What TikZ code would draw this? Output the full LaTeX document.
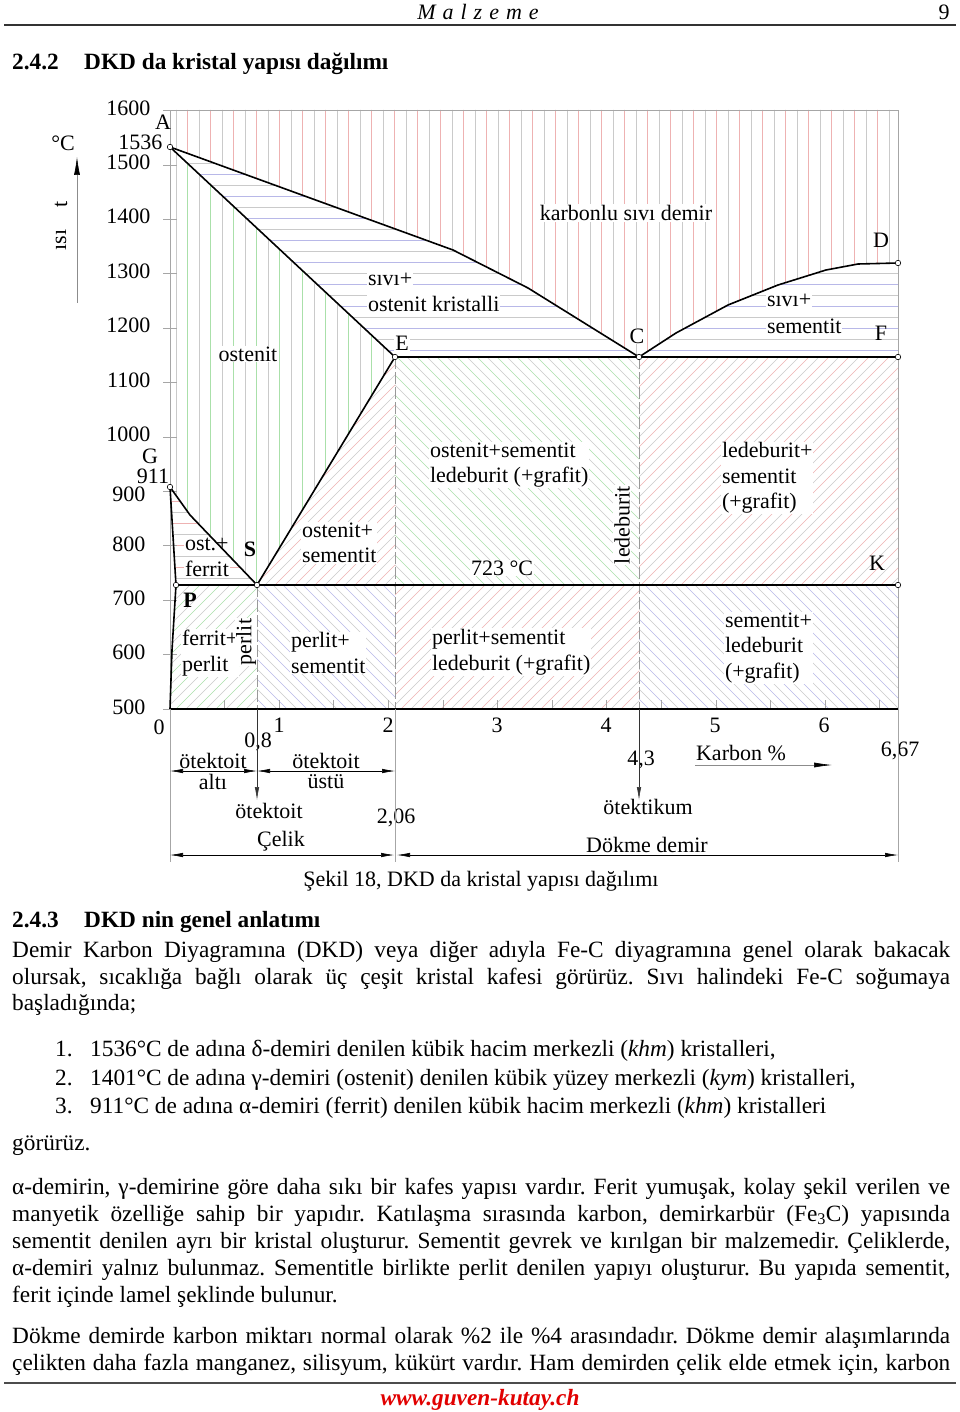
\documentclass[tikz,border=0pt]{standalone}
\usepackage{fontspec}
\setmainfont{Liberation Serif}
\usetikzlibrary{arrows.meta}
\definecolor{hr}{RGB}{238,178,178}
\definecolor{hg}{RGB}{202,202,202}
\definecolor{hgr}{RGB}{170,224,170}
\definecolor{hb}{RGB}{184,184,232}
\definecolor{footred}{RGB}{225,0,0}
\newcommand\dfont{\fontsize{22}{25.5}\selectfont}
\newcommand\bfont{\fontsize{23.3}{27}\selectfont\frenchspacing}
\newcommand\jl[1]{\makebox[938pt][s]{#1}}
\newcommand\lsp{\kern7pt}
% hatch macros: #1 start, #2 count, #3 odd colour, #4 even colour
\newcommand\hV[4]{\foreach \i in {0,...,#2}{\ifodd\i\relax\def\hc{#3}\else\def\hc{#4}\fi
  \draw[hatchl,color=\hc] ({#1+11.5*\i},100) -- ({#1+11.5*\i},720);}}
\newcommand\hH[4]{\foreach \i in {0,...,#2}{\ifodd\i\relax\def\hc{#3}\else\def\hc{#4}\fi
  \draw[hatchl,color=\hc] (160,{#1+11*\i}) -- (910,{#1+11*\i});}}
\newcommand\hU[4]{\foreach \i in {0,...,#2}{\ifodd\i\relax\def\hc{#3}\else\def\hc{#4}\fi
  \draw[hatchl,color=\hc] ({#1+10*\i},720) -- ++(620,-620);}}
\newcommand\hD[4]{\foreach \i in {0,...,#2}{\ifodd\i\relax\def\hc{#3}\else\def\hc{#4}\fi
  \draw[hatchl,color=\hc] ({#1+10*\i},100) -- ++(620,620);}}
\begin{document}
\begin{tikzpicture}[x=1pt,y=-1pt,
 hatchl/.style={line width=0.55pt},
 blk/.style={line width=1.6pt, line join=round},
 greyl/.style={draw=black!35, line width=0.7pt},
 dashl/.style={draw=black!40, line width=0.8pt, dash pattern=on 12pt off 3pt},
 ptmark/.style={circle, draw=black, fill=white, line width=0.6pt, inner sep=0pt, minimum size=5.5pt},
 lab/.style={font=\dfont, inner sep=0.8pt, fill=white, align=left},
 labn/.style={font=\dfont, inner sep=0.5pt},
 body/.style={font=\bfont, inner sep=0pt, anchor=base west},
 arrs/.style={-{Latex[length=13pt,width=4.5pt]}, line width=0.6pt},
 darrs/.style={{Latex[length=13pt,width=4.5pt]}-{Latex[length=13pt,width=4.5pt]}, line width=0.6pt},
]
\fill[white] (0,0) rectangle (960,1412);
\useasboundingbox (0,0) rectangle (960,1412);

% ---------- points ----------
\coordinate (A) at (170,147);
\coordinate (l1) at (453,250);
\coordinate (l2) at (528,288);
\coordinate (C) at (639,357);
\coordinate (r1) at (676,333);
\coordinate (r2) at (728,305);
\coordinate (r3) at (778,285);
\coordinate (r4) at (826,270);
\coordinate (r5) at (858,264);
\coordinate (D) at (898,263);
\coordinate (E) at (395,357);
\coordinate (F) at (898,357);
\coordinate (G) at (170,487);
\coordinate (g1) at (190,515);
\coordinate (S) at (257,585);
\coordinate (P) at (176,585);
\coordinate (p1) at (172,650);
\coordinate (K) at (898,585);
\coordinate (O) at (170,709);
\coordinate (X) at (898,709);
\coordinate (TL) at (170,110);
\coordinate (TR) at (898,110);
\coordinate (Eb) at (395,585);
\coordinate (Cb) at (639,585);
\coordinate (Sb) at (257,709);
\coordinate (Ebb) at (395,709);
\coordinate (Cbb) at (639,709);

% ---------- hatching ----------
\begin{scope}
\clip (TL) -- (TR) -- (D) -- (r5) -- (r4) -- (r3) -- (r2) -- (r1) -- (C) -- (l2) -- (l1) -- (A) -- cycle;
\hV{176}{64}{hr}{hg}
\end{scope}
\begin{scope}
\clip (A) -- (l1) -- (l2) -- (C) -- (r1) -- (r2) -- (r3) -- (r4) -- (r5) -- (D) -- (F) -- (E) -- cycle;
\hH{163}{18}{hb}{hg}
\end{scope}
\begin{scope}
\clip (A) -- (E) -- (S) -- (g1) -- (G) -- cycle;
\hV{176}{20}{hgr}{hg}
\end{scope}
\begin{scope}
\clip (E) -- (S) -- (Eb) -- cycle;
\hU{-110}{38}{hr}{hg}
\end{scope}
\begin{scope}
\clip (E) -- (C) -- (Cb) -- (Eb) -- cycle;
\hD{-90}{48}{hgr}{hg}
\end{scope}
\begin{scope}
\clip (C) -- (F) -- (K) -- (Cb) -- cycle;
\hU{276}{49}{hr}{hg}
\end{scope}
\begin{scope}
\clip (G) -- (g1) -- (S) -- (P) -- cycle;
\hH{490}{9}{hr}{hg}
\end{scope}
\begin{scope}
\clip (P) -- (S) -- (Sb) -- (O) -- (p1) -- cycle;
\hU{35}{22}{hgr}{hg}
\end{scope}
\begin{scope}
\clip (S) -- (Eb) -- (Ebb) -- (Sb) -- cycle;
\hD{-352}{27}{hb}{hg}
\end{scope}
\begin{scope}
\clip (Eb) -- (Cb) -- (Cbb) -- (Ebb) -- cycle;
\hU{260}{37}{hr}{hg}
\end{scope}
\begin{scope}
\clip (Cb) -- (K) -- (X) -- (Cbb) -- cycle;
\hD{30}{39}{hb}{hg}
\end{scope}

% ---------- frame, ticks ----------
\draw[greyl] (TL) rectangle (X);
\foreach \t in {0,...,11}{\draw[greyl] (163,{110.5+54.41*\t}) -- (177,{110.5+54.41*\t});}
\foreach \k in {1,...,13}{\draw[greyl] ({170+54.6*\k},700) -- ({170+54.6*\k},709);}

% ---------- diagram labels ----------
\node[lab] (lost) at (248,354) {ostenit};
\node[lab, anchor=west] (lsiv1) at (367,279) {sıvı+};
\node[lab, anchor=west] (lsiv2) at (367,304) {ostenit kristalli};
\node[lab] (lkar) at (626,213) {karbonlu sıvı demir};
\node[lab, anchor=west] (lsvs1) at (766,300) {sıvı+};
\node[lab, anchor=west] (lsvs2) at (766,326) {sementit};
\node[lab] (lC) at (637,336) {C};
\node[lab] (lE) at (402,343) {E};
\node[lab, anchor=west] (lof1) at (184,544) {ost.+};
\node[lab, anchor=west] (lof2) at (184,569) {ferrit};
\node[lab, anchor=west] (los) at (301,543) {ostenit+\\sementit};
\node[lab, anchor=west] (losl) at (429,465) {ostenit+sementit\\ledeburit (+grafit)};
\node[lab] (l723) at (502,568) {723 °C};
\node[lab, rotate=90] (lled) at (622,525) {ledeburit};
\node[lab, anchor=west] (llsg) at (721,478) {ledeburit+\\sementit\\(+grafit)};
\node[lab, anchor=west] (lfp) at (181,653) {ferrit+\\perlit};
\node[lab, rotate=90] (lper) at (246,642) {perlit};
\node[lab, anchor=west] (lps) at (290,653) {perlit+\\sementit};
\node[lab, anchor=west] (lpsl) at (431,652) {perlit+sementit\\ledeburit (+grafit)};
\node[lab, anchor=west] (lslg) at (724,648) {sementit+\\ledeburit\\(+grafit)};
\node[labn] (lA) at (163,122) {A};
\node[labn] (lD) at (881,240) {D};
\node[labn] (lF) at (881,333) {F};
\node[labn] (lG) at (150,456) {G};
\node[labn] (l911) at (153,476) {911};
\node[labn] (lS) at (250,549) {\bfseries S};
\node[labn] (lK) at (877,563) {K};
\node[labn] (lP) at (190,600) {\bfseries P};

% ---------- dashed and phase lines ----------
\draw[dashl] (S) -- (Sb);
\draw[dashl] (E) -- (Ebb);
\draw[dashl] (C) -- (Cbb);
\draw[blk] (A) -- (l1) -- (l2) -- (C) -- (r1) -- (r2) -- (r3) -- (r4) -- (r5) -- (D);
\draw[blk] (A) -- (E) -- (S);
\draw[blk] (E) -- (F);
\draw[blk] (G) -- (g1) -- (S);
\draw[blk] (G) -- (P) -- (p1) -- (O);
\draw[blk] (P) -- (K);
\draw[blk] (O) -- (X);
\foreach \p in {A,E,C,D,F,G,P,S,K}{\node[ptmark] at (\p) {};}

% ---------- temperature axis ----------
\node[labn, anchor=east] (t1600) at (151,108) {1600};
\node[labn, anchor=east] (t1536) at (163,142) {1536};
\node[labn, anchor=east] (t1500) at (151,162) {1500};
\node[labn, anchor=east] (t1400) at (151,216) {1400};
\node[labn, anchor=east] (t1300) at (151,271) {1300};
\node[labn, anchor=east] (t1200) at (151,325) {1200};
\node[labn, anchor=east] (t1100) at (151,380) {1100};
\node[labn, anchor=east] (t1000) at (151,434) {1000};
\node[labn, anchor=east] (t900) at (146,494) {900};
\node[labn, anchor=east] (t800) at (146,544) {800};
\node[labn, anchor=east] (t700) at (146,598) {700};
\node[labn, anchor=east] (t600) at (146,652) {600};
\node[labn, anchor=east] (t500) at (146,707) {500};
\node[labn] (degc) at (63,143) {°C};
\coordinate (ta) at (77,303);
\coordinate (tb) at (77,157);
\draw[draw=black!45, line width=0.6pt, -{Latex[length=18pt,width=6pt,color=black]}] (ta) -- (tb);
\node[labn, rotate=90] (isi) at (61,240) {ısı};
\node[labn, rotate=90] (tt) at (61,204) {t};

% ---------- carbon axis ----------
\node[labn] (c0) at (159,727) {0};
\node[labn] (c1) at (279,725) {1};
\node[labn] (c2) at (388,725) {2};
\node[labn] (c3) at (497,725) {3};
\node[labn] (c4) at (606,725) {4};
\node[labn] (c5) at (715,725) {5};
\node[labn] (c6) at (824,725) {6};
\node[labn] (c08) at (258,742) {0,8};
\node[labn] (ot1) at (213,761) {ötektoit};
\node[labn] (alt) at (213,782) {altı};
\node[labn] (ot2) at (326,761) {ötektoit};
\node[labn] (ust) at (326,782) {üstü};
\node[labn] (ot3) at (269,811) {ötektoit};
\node[labn] (c206) at (396,818) {2,06};
\node[labn] (c43) at (641,760) {4,3};
\node[labn] (otk) at (648,807) {ötektikum};
\node[labn] (karb) at (741,753) {Karbon \%};
\node[labn] (c667) at (900,751) {6,67};
\node[labn] (celik) at (281,841) {Çelik};
\node[labn] (dokme) at (647,845) {Dökme demir};
\node[labn] (cap) at (481,881) {Şekil 18, DKD da kristal yapısı dağılımı};

\coordinate (a0) at (170,771);
\coordinate (a08) at (257,771);
\coordinate (a2) at (395,771);
\coordinate (b0) at (170,855);
\coordinate (b2l) at (394,855);
\coordinate (b2r) at (397,855);
\coordinate (b6) at (898,855);
\coordinate (va) at (257,800);
\coordinate (vc) at (639,800);
\coordinate (k1) at (695,765);
\coordinate (k2) at (832,765);
\draw[greyl] (O) -- (170,862);
\draw[greyl] (Ebb) -- (395,862);
\draw[greyl] (X) -- (898,862);
\draw[arrs, black!80] (Sb) -- (va);
\draw[arrs, black!80] (Cbb) -- (vc);
\draw[darrs] (a0) -- (a08);
\draw[darrs] (a08) -- (a2);
\draw[darrs] (b0) -- (b2l);
\draw[darrs] (b2r) -- (b6);
\draw[arrs, draw=black!45, -{Latex[length=18pt,width=5pt,color=black]}] (k1) -- (k2);

% ---------- page header ----------
\node[font=\fontsize{22}{26}\selectfont\itshape, inner sep=0pt, anchor=base] (hdr) at (478,20) {M\lsp a\lsp l\lsp z\lsp e\lsp m\lsp e};
\node[font=\fontsize{22}{26}\selectfont, inner sep=0pt, anchor=base] (pg) at (944,20) {9};
\coordinate (h1) at (4,25);
\coordinate (h2) at (956,25);
\draw[line width=1.3pt, black!80] (h1) -- (h2);

% ---------- headings ----------
\node[body, font=\bfont\bfseries] (h242) at (12,70) {2.4.2};
\node[body, font=\bfont\bfseries] (h242t) at (84,70) {DKD da kristal yapısı dağılımı};
\node[body, font=\bfont\bfseries] (h243) at (12,927) {2.4.3};
\node[body, font=\bfont\bfseries] (h243t) at (84,927) {DKD nin genel anlatımı};

% ---------- body text ----------
\node[body] (b1) at (12,957) {\jl{Demir Karbon Diyagramına (DKD) veya diğer adıyla Fe-C diyagramına genel olarak bakacak}};
\node[body] (b2) at (12,984) {\jl{olursak, sıcaklığa bağlı olarak üç çeşit kristal kafesi görürüz. Sıvı halindeki Fe-C soğumaya}};
\node[body] (b3) at (12,1010) {başladığında;};
\node[body] (n1) at (55,1056) {1.};
\node[body] (i1) at (90,1056) {1536°C de adına δ-demiri denilen kübik hacim merkezli (\textit{khm}) kristalleri,};
\node[body] (n2) at (55,1085) {2.};
\node[body] (i2) at (90,1085) {1401°C de adına γ-demiri (ostenit) denilen kübik yüzey merkezli (\textit{kym}) kristalleri,};
\node[body] (n3) at (55,1113) {3.};
\node[body] (i3) at (90,1113) {911°C de adına α-demiri (ferrit) denilen kübik hacim merkezli (\textit{khm}) kristalleri};
\node[body] (gor) at (12,1150) {görürüz.};
\node[body] (c1l) at (12,1194) {\jl{α-demirin, γ-demirine göre daha sıkı bir kafes yapısı vardır. Ferit yumuşak, kolay şekil verilen ve}};
\node[body] (c2l) at (12,1221) {\jl{manyetik özelliğe sahip bir yapıdır. Katılaşma sırasında karbon, demirkarbür (Fe\textsubscript{3}C) yapısında}};
\node[body] (c3l) at (12,1248) {\jl{sementit denilen ayrı bir kristal oluşturur. Sementit gevrek ve kırılgan bir malzemedir. Çeliklerde,}};
\node[body] (c4l) at (12,1275) {\jl{α-demiri yalnız bulunmaz. Sementitle birlikte perlit denilen yapıyı oluşturur. Bu yapıda sementit,}};
\node[body] (c5l) at (12,1302) {ferit içinde lamel şeklinde bulunur.};
\node[body] (d1l) at (12,1343) {\jl{Dökme demirde karbon miktarı normal olarak \%2 ile \%4 arasındadır. Dökme demir alaşımlarında}};
\node[body] (d2l) at (12,1370) {\jl{çelikten daha fazla manganez, silisyum, kükürt vardır. Ham demirden çelik elde etmek için, karbon}};

% ---------- footer ----------
\coordinate (f1) at (4,1383);
\coordinate (f2) at (956,1383);
\draw[line width=2pt, black!70] (f1) -- (f2);
\node[font=\bfont\bfseries\itshape, text=footred, inner sep=0pt, anchor=base] (web) at (480,1405) {www.guven-kutay.ch};
\end{tikzpicture}
\end{document}
